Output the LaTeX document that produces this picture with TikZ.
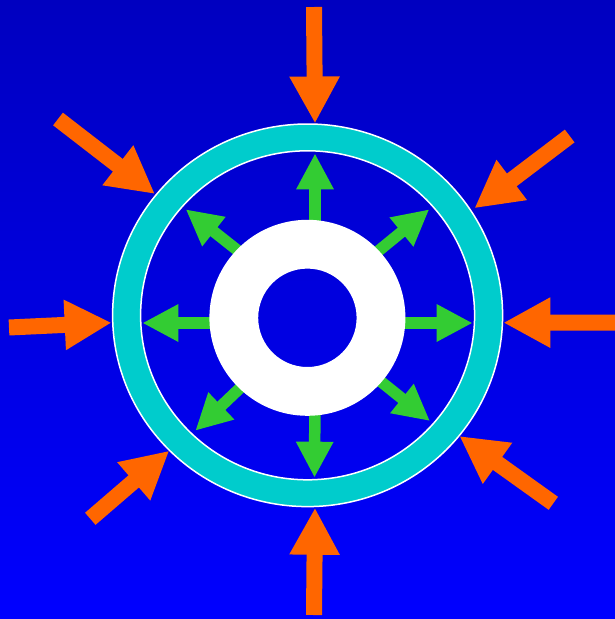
\documentclass[tikz,border=0pt]{standalone}
\usepackage{xcolor}
\usepackage{tikz}
\usetikzlibrary{arrows.meta}
\definecolor{bgTop}{HTML}{0000C0}
\definecolor{bgBottom}{HTML}{0000FF}
\definecolor{holeBlue}{HTML}{0000E4}
\definecolor{pushOrange}{HTML}{FF6600}
\definecolor{flowGreen}{HTML}{33CC33}
\definecolor{ringTeal}{HTML}{00CCCC}

\begin{document}
\begin{tikzpicture}[
  x=1pt, y=-1pt,
  push/.style={draw=pushOrange, line width=16pt, line cap=butt,
               -{Triangle[length=47pt, width=47pt]}},
  flow/.style={draw=flowGreen, line width=11.5pt, line cap=butt,
               -{Triangle[length=36pt, width=35pt]}},
  rim/.style={draw=white, line width=1.5pt}
]
\useasboundingbox (0,0) rectangle (615,619);
\shade[top color=bgTop, bottom color=bgBottom] (0,0) rectangle (615,619);

% outer pressure arrows
\foreach \tail/\tip in {{(314,7)}/{(315,123.5)}, {(569.7,136)}/{(474.3,208.3)},
    {(615,322.5)}/{(503.3,322.7)}, {(553.3,503.3)}/{(459.3,436)},
    {(314,615)}/{(315,507.7)}, {(90.3,518.8)}/{(169.3,450.7)},
    {(9,327.5)}/{(111.7,322.7)}, {(58,119)}/{(155,194)}}
  \draw[push] \tail -- \tip;

% teal ring
\coordinate (ring) at (307.6,315.3);
\fill[ringTeal, even odd rule] (ring) ellipse [x radius=195, y radius=191.3]
  (ring) ellipse [x radius=167, y radius=164.5];
\draw[rim] (ring) ellipse [x radius=195, y radius=191.3];
\draw[rim] (ring) ellipse [x radius=167, y radius=164.5];

% inner flow arrows
\foreach \tail/\tip in {{(315,250)}/{(315,153.3)}, {(380,323)}/{(472.7,323)},
    {(235,323)}/{(142.3,323)}, {(315,388)}/{(314.5,477.7)},
    {(256,265)}/{(185.7,209.3)}, {(360,266)}/{(429.3,209.3)},
    {(260,369)}/{(195.3,430.7)}, {(364,368)}/{(430,421)}}
  \draw[flow] \tail -- \tip;

% white core
\coordinate (core) at (307.4,317.8);
\fill[white, even odd rule] (core) circle [radius=98] (core) circle [radius=49.2];
\end{tikzpicture}
\end{document}
